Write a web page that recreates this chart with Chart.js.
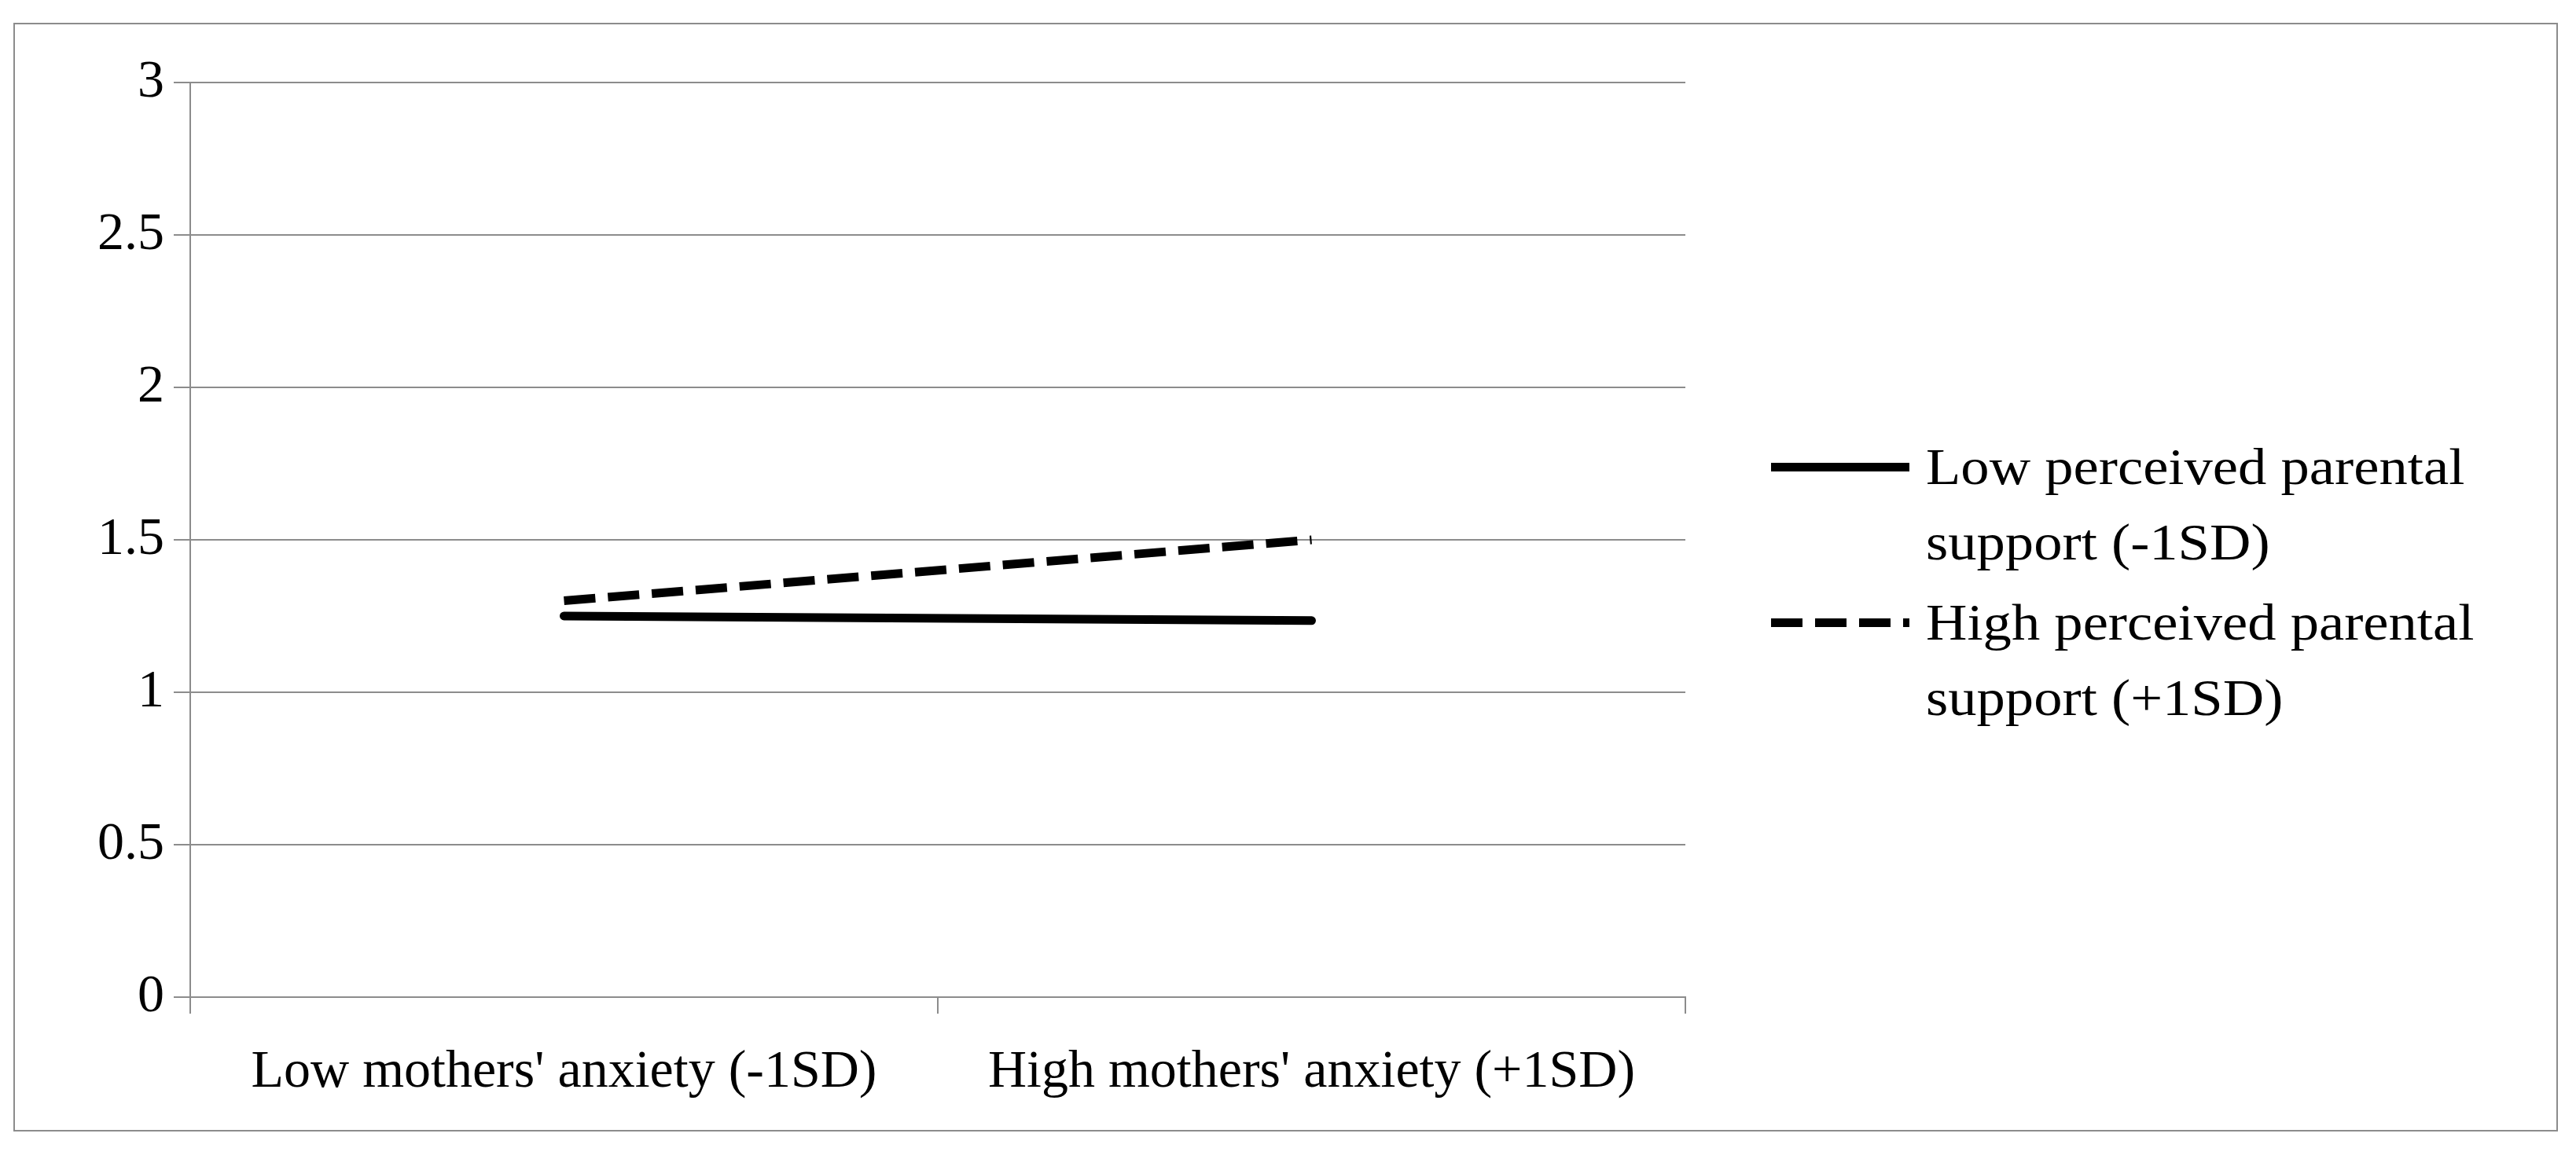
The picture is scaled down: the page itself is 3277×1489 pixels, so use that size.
<!DOCTYPE html>
<html><head><meta charset="utf-8">
<script src="https://cdn.jsdelivr.net/npm/chart.js@4"></script>
<style>
html,body{margin:0;padding:0;background:#fff;}
#wrap{position:relative;width:3277px;height:1489px;}
#frame{position:absolute;left:17px;top:29px;width:3237px;height:1411px;border:2px solid #8c8c8c;box-sizing:border-box;pointer-events:none;}
.leg{position:absolute;font-family:"Liberation Serif",serif;font-size:66px;line-height:96px;color:#000;transform-origin:0 0;transform:scaleX(1.1);white-space:nowrap;}
.sw{position:absolute;width:176px;height:0;}
</style></head><body>
<div id="wrap">
<canvas id="c" width="3277" height="1489"></canvas>
<div id="frame"></div>
<div class="sw" style="left:2253px;top:589px;border-top:11px solid #000;"></div>
<div class="leg" style="left:2450px;top:546px;">Low perceived parental<br>support (-1SD)</div>
<div class="sw" style="left:2253px;top:787px;height:11px;border:none;background:repeating-linear-gradient(90deg,#000 0 40px,transparent 40px 56px);"></div>
<div class="leg" style="left:2450px;top:744px;">High perceived parental<br>support (+1SD)</div>
</div>
<script>
const categories = ["Low mothers' anxiety (-1SD)", "High mothers' anxiety (+1SD)"];
const lowSupport = [1.25, 1.235];
const highSupport = [1.30, 1.50];
const seriesNames = ["Low perceived parental support (-1SD)", "High perceived parental support (+1SD)"];
const yTicks = [0, 0.5, 1, 1.5, 2, 2.5, 3];

const font = {family: "Liberation Serif", size: 68};
new Chart(document.getElementById('c'), {
  type: 'line',
  data: {
    labels: categories,
    datasets: [
      {label: seriesNames[0], data: lowSupport, borderColor: '#000', borderWidth: 11, pointRadius: 0, borderCapStyle: 'round'},
      {label: seriesNames[1], data: highSupport, borderColor: '#000', borderWidth: 11, pointRadius: 0, borderDash: [40, 16]}
    ]
  },
  options: {
    responsive: false, animation: false, devicePixelRatio: 1,
    layout: {padding: {left: 0, top: 105, right: 1133, bottom: 0}},
    plugins: {legend: {display: false}, tooltip: {enabled: false}},
    scales: {
      x: {
        offset: true,
        grid: {offset: true, drawOnChartArea: false, drawTicks: true, tickLength: 21, color: '#8c8c8c', lineWidth: 2},
        border: {display: true, color: '#8c8c8c', width: 2},
        ticks: {font, color: '#000', padding: 34, maxRotation: 0},
        afterFit(s) { s.height = 220; }
      },
      y: {
        min: 0, max: 3,
        afterBuildTicks(s) { s.ticks = yTicks.map(v => ({value: v})); },
        grid: {color: '#8c8c8c', lineWidth: 2, tickLength: 21},
        border: {display: true, color: '#8c8c8c', width: 2},
        ticks: {font, color: '#000', padding: 12, callback: v => String(v)},
        afterFit(s) { s.width = 242; }
      }
    }
  }
});
</script>
</body></html>
